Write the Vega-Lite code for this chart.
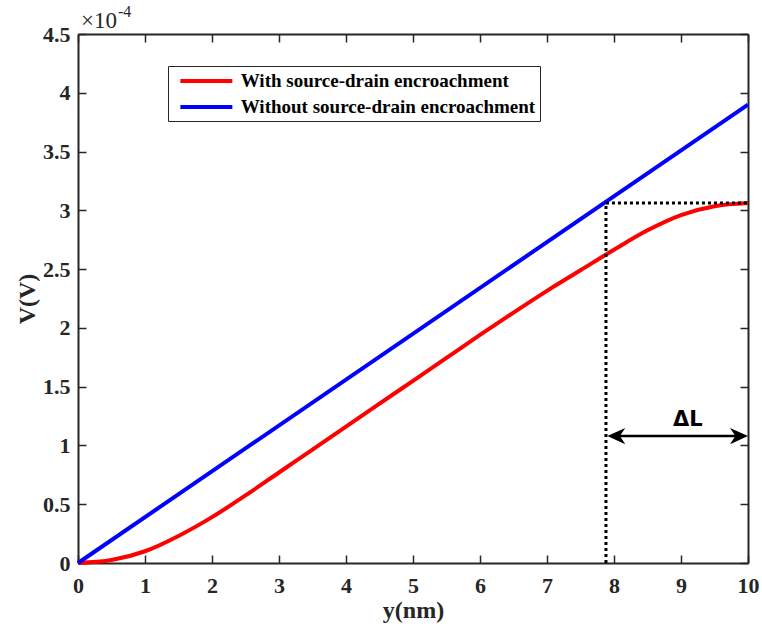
{
  "$schema": "https://vega.github.io/schema/vega-lite/v6.json",
  "width": 670,
  "height": 529,
  "autosize": "none",
  "padding": {"left": 78, "top": 34, "right": 14, "bottom": 66},
  "background": "white",
  "config": {
    "view": {"stroke": null},
    "axis": {
      "domainColor": "#262626",
      "domainWidth": 2,
      "tickColor": "#262626",
      "tickWidth": 1.5,
      "tickSize": -8,
      "grid": false,
      "labelFlush": false,
      "labelFont": "Liberation Serif",
      "labelFontWeight": "bold",
      "labelFontSize": 22,
      "labelColor": "#262626",
      "titleFont": "Liberation Serif",
      "titleFontWeight": "bold",
      "titleFontSize": 24,
      "titleColor": "#262626"
    }
  },
  "datasets": {
    "curves": [
      {"pos": 0, "V": 0, "case": "With source-drain encroachment"},
      {"pos": 0.5, "V": 0.0000025, "case": "With source-drain encroachment"},
      {"pos": 1, "V": 0.00001, "case": "With source-drain encroachment"},
      {"pos": 1.5, "V": 0.000023, "case": "With source-drain encroachment"},
      {"pos": 2, "V": 0.000039, "case": "With source-drain encroachment"},
      {"pos": 2.5, "V": 0.0000575, "case": "With source-drain encroachment"},
      {"pos": 3, "V": 0.000077, "case": "With source-drain encroachment"},
      {"pos": 3.5, "V": 0.0000965, "case": "With source-drain encroachment"},
      {"pos": 4, "V": 0.000116, "case": "With source-drain encroachment"},
      {"pos": 4.5, "V": 0.0001355, "case": "With source-drain encroachment"},
      {"pos": 5, "V": 0.000155, "case": "With source-drain encroachment"},
      {"pos": 5.5, "V": 0.0001745, "case": "With source-drain encroachment"},
      {"pos": 6, "V": 0.000194, "case": "With source-drain encroachment"},
      {"pos": 6.5, "V": 0.000213, "case": "With source-drain encroachment"},
      {"pos": 7, "V": 0.0002315, "case": "With source-drain encroachment"},
      {"pos": 7.5, "V": 0.000249, "case": "With source-drain encroachment"},
      {"pos": 8, "V": 0.0002665, "case": "With source-drain encroachment"},
      {"pos": 8.5, "V": 0.000283, "case": "With source-drain encroachment"},
      {"pos": 9, "V": 0.000296, "case": "With source-drain encroachment"},
      {"pos": 9.5, "V": 0.0003035, "case": "With source-drain encroachment"},
      {"pos": 10, "V": 0.0003062, "case": "With source-drain encroachment"},
      {"pos": 0, "V": 0, "case": "Without source-drain encroachment"},
      {"pos": 10, "V": 0.00039, "case": "Without source-drain encroachment"}
    ],
    "guides": [
      {"xa": 7.88, "xb": 7.88, "va": 0, "vb": 0.0003062},
      {"xa": 7.88, "xb": 10, "va": 0.0003062, "vb": 0.0003062}
    ],
    "arrow": [
      {"xa": 8.0, "xb": 9.9, "va": 0.000108, "vb": 0.000108}
    ],
    "heads": [
      {"pos": 7.9, "V": 0.000108, "dir": "left"},
      {"pos": 10, "V": 0.000108, "dir": "right"}
    ],
    "labels": [
      {"pos": 9.1, "V": 0.000122, "text": "ΔL"}
    ],
    "exponent": [
      {"pos": 0, "V": 0.00045, "base": "×10", "power": "-4"}
    ]
  },
  "layer": [
    {
      "data": {"name": "curves"},
      "mark": {"type": "line", "strokeWidth": 4, "interpolate": "monotone"},
      "encoding": {
        "x": {
          "field": "pos", "type": "quantitative",
          "scale": {"domain": [0, 10], "nice": false},
          "axis": {"values": [0,1,2,3,4,5,6,7,8,9,10], "title": "y(nm)", "labelPadding": 20, "titlePadding": 2, "format": "d"}
        },
        "y": {
          "field": "V", "type": "quantitative",
          "scale": {"domain": [0, 0.00045], "nice": false},
          "axis": {
            "values": [0, 0.00005, 0.0001, 0.00015, 0.0002, 0.00025, 0.0003, 0.00035, 0.0004, 0.00045],
            "labelExpr": "format(datum.value * 10000, '~g')",
            "title": "V(V)", "labelPadding": 16, "titlePadding": 3
          }
        },
        "color": {
          "field": "case", "type": "nominal",
          "scale": {
            "domain": ["With source-drain encroachment", "Without source-drain encroachment"],
            "range": ["#FF0000", "#0000FF"]
          },
          "legend": {
            "title": null,
            "orient": "none",
            "legendX": 90,
            "legendY": 32,
            "direction": "vertical",
            "symbolType": "M-0.3,0H5.7",
            "symbolSize": 300,
            "symbolStrokeWidth": 4,
            "symbolFillColor": "transparent",
            "labelOffset": 46.7,
            "labelFont": "Liberation Serif",
            "labelFontWeight": "bold",
            "labelFontSize": 19,
            "labelColor": "black",
            "labelLimit": 400,
            "rowPadding": 5,
            "strokeColor": "#262626",
            "fillColor": "white",
            "padding": 4
          }
        }
      }
    },
    {
      "data": {"name": "guides"},
      "mark": {"type": "rule", "strokeWidth": 3, "strokeDash": [3, 3], "color": "black"},
      "encoding": {
        "x": {"field": "xa", "type": "quantitative", "axis": {"orient": "top", "values": [0,1,2,3,4,5,6,7,8,9,10], "labels": false, "title": null}},
        "x2": {"field": "xb"},
        "y": {"field": "va", "type": "quantitative", "axis": {"orient": "right", "values": [0, 0.00005, 0.0001, 0.00015, 0.0002, 0.00025, 0.0003, 0.00035, 0.0004, 0.00045], "labels": false, "title": null}},
        "y2": {"field": "vb"}
      }
    },
    {
      "data": {"name": "arrow"},
      "mark": {"type": "rule", "strokeWidth": 2.5, "color": "black"},
      "encoding": {
        "x": {"field": "xa", "type": "quantitative", "axis": null},
        "x2": {"field": "xb"},
        "y": {"field": "va", "type": "quantitative", "axis": null},
        "y2": {"field": "vb"}
      }
    },
    {
      "data": {"name": "heads"},
      "mark": {"type": "point", "filled": true, "color": "black", "size": 1296, "opacity": 1},
      "encoding": {
        "x": {"field": "pos", "type": "quantitative", "axis": null},
        "y": {"field": "V", "type": "quantitative", "axis": null},
        "shape": {
          "field": "dir", "type": "nominal",
          "scale": {"domain": ["left", "right"], "range": ["M0,0L1,-0.45L0.7,0L1,0.45Z", "M0,0L-1,-0.45L-0.7,0L-1,0.45Z"]},
          "legend": null
        }
      }
    },
    {
      "data": {"name": "labels"},
      "mark": {"type": "text", "font": "DejaVu Sans", "fontWeight": "bold", "fontSize": 21, "color": "black"},
      "encoding": {
        "x": {"field": "pos", "type": "quantitative", "axis": null},
        "y": {"field": "V", "type": "quantitative", "axis": null},
        "text": {"field": "text"}
      }
    },
    {
      "data": {"name": "exponent"},
      "mark": {"type": "text", "font": "Liberation Serif", "fontSize": 23, "color": "#262626", "align": "left", "baseline": "alphabetic", "dx": 3, "dy": -6},
      "encoding": {
        "x": {"field": "pos", "type": "quantitative", "axis": null},
        "y": {"field": "V", "type": "quantitative", "axis": null},
        "text": {"field": "base"}
      }
    },
    {
      "data": {"name": "exponent"},
      "mark": {"type": "text", "font": "Liberation Serif", "fontSize": 16, "color": "#262626", "align": "left", "baseline": "alphabetic", "dx": 40, "dy": -17},
      "encoding": {
        "x": {"field": "pos", "type": "quantitative", "axis": null},
        "y": {"field": "V", "type": "quantitative", "axis": null},
        "text": {"field": "power"}
      }
    }
  ],
  "resolve": {"axis": {"x": "independent", "y": "independent"}}
}
